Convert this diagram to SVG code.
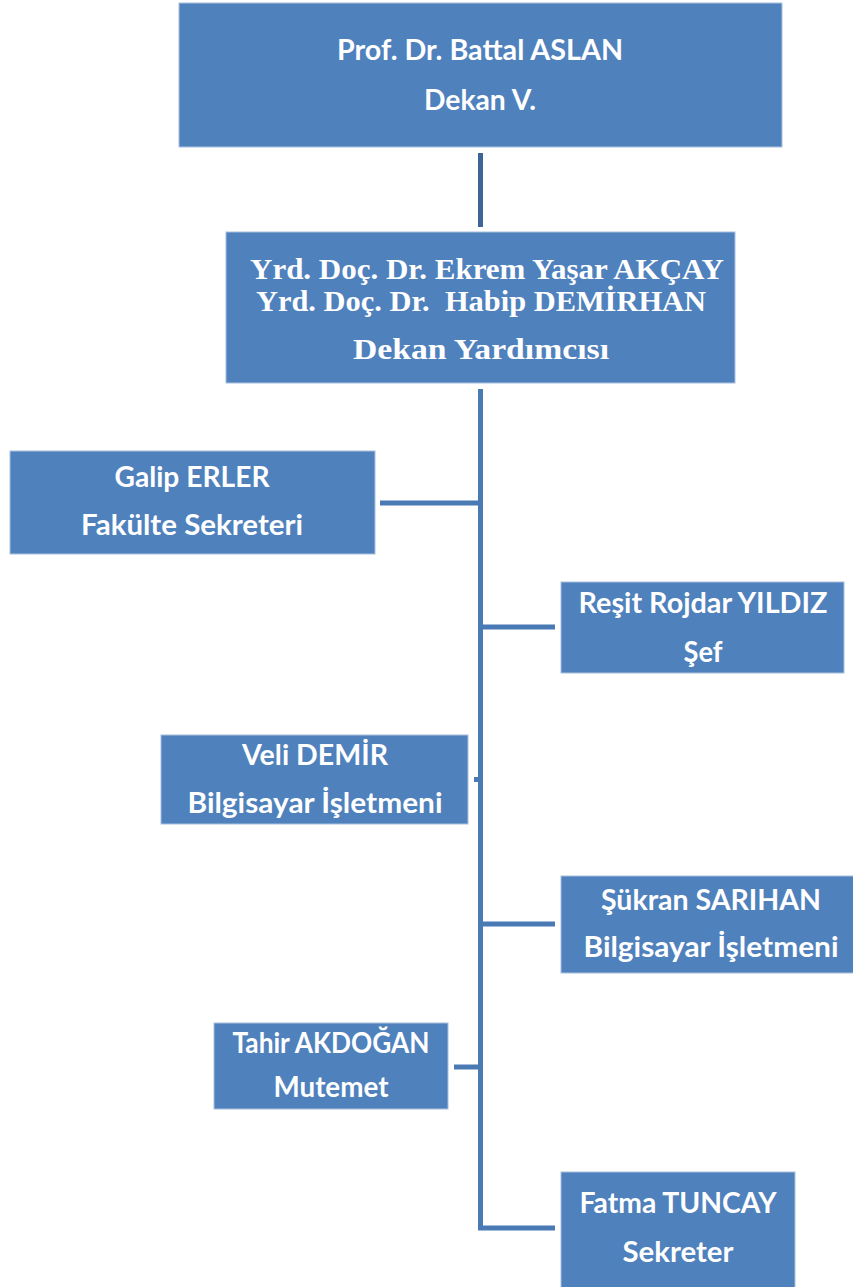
<svg xmlns="http://www.w3.org/2000/svg" width="853" height="1287" viewBox="0 0 853 1287">
<style>
.box{fill:#4f81bd;stroke:#a9c0de;stroke-width:1}
.t{font-family:Lato,"Open Sans","Liberation Sans",sans-serif;font-weight:bold;font-size:28px;fill:#ffffff;text-anchor:middle}
.s{font-family:"Liberation Serif","DejaVu Serif",serif;font-weight:bold;font-size:30px;fill:#ffffff;text-anchor:middle}
.c{stroke:#4a7ab3;stroke-width:5;fill:none}
</style>
<rect width="853" height="1287" fill="#ffffff"/>
<g id="connectors">
<line x1="480.5" y1="153" x2="480.5" y2="227" stroke="#3d6696" stroke-width="5"/>
<polyline class="c" points="480.5,389 480.5,1228 555,1228"/>
<line class="c" x1="380" y1="503" x2="480" y2="503"/>
<line class="c" x1="481" y1="627" x2="555" y2="627"/>
<line class="c" x1="474" y1="779.5" x2="480" y2="779.5"/>
<line class="c" x1="481" y1="924" x2="555" y2="924"/>
<line class="c" x1="454" y1="1067" x2="480" y2="1067"/>
</g>
<g id="dekan">
<rect class="box" x="179" y="3" width="603" height="144"/>
<text class="t" x="480" y="60" textLength="286" lengthAdjust="spacingAndGlyphs">Prof. Dr. Battal ASLAN</text>
<text class="t" x="480" y="110" textLength="112" lengthAdjust="spacingAndGlyphs">Dekan V.</text>
</g>
<g id="yardimci">
<rect class="box" x="226" y="232" width="509" height="151"/>
<text class="s" x="487" y="279" textLength="474" lengthAdjust="spacingAndGlyphs">Yrd. Doç. Dr. Ekrem Yaşar AKÇAY</text>
<text class="s" x="481" y="311" textLength="450" lengthAdjust="spacingAndGlyphs" xml:space="preserve">Yrd. Doç. Dr.  Habip DEMİRHAN</text>
<text class="s" x="481" y="359" textLength="256" lengthAdjust="spacingAndGlyphs">Dekan Yardımcısı</text>
</g>
<g id="galip">
<rect class="box" x="10" y="451" width="365" height="103"/>
<text class="t" x="192" y="487" textLength="155" lengthAdjust="spacingAndGlyphs">Galip ERLER</text>
<text class="t" x="192" y="535" textLength="222" lengthAdjust="spacingAndGlyphs">Fakülte Sekreteri</text>
</g>
<g id="resit">
<rect class="box" x="561" y="582" width="283" height="91"/>
<text class="t" x="703" y="613" textLength="249" lengthAdjust="spacingAndGlyphs">Reşit Rojdar YILDIZ</text>
<text class="t" x="703" y="662" textLength="39" lengthAdjust="spacingAndGlyphs">Şef</text>
</g>
<g id="veli">
<rect class="box" x="161" y="735" width="307" height="89"/>
<text class="t" x="315" y="765" textLength="146" lengthAdjust="spacingAndGlyphs">Veli DEMİR</text>
<text class="t" x="315" y="813" textLength="255" lengthAdjust="spacingAndGlyphs">Bilgisayar İşletmeni</text>
</g>
<g id="sukran">
<rect class="box" x="561" y="876" width="293" height="97"/>
<text class="t" x="711" y="910" textLength="220" lengthAdjust="spacingAndGlyphs">Şükran SARIHAN</text>
<text class="t" x="711" y="957" textLength="255" lengthAdjust="spacingAndGlyphs">Bilgisayar İşletmeni</text>
</g>
<g id="tahir">
<rect class="box" x="214" y="1023" width="234" height="86"/>
<text class="t" x="331" y="1053" textLength="197" lengthAdjust="spacingAndGlyphs">Tahir AKDOĞAN</text>
<text class="t" x="331" y="1097" textLength="115" lengthAdjust="spacingAndGlyphs">Mutemet</text>
</g>
<g id="fatma">
<rect class="box" x="561" y="1172" width="234" height="120"/>
<text class="t" x="678" y="1213" textLength="197" lengthAdjust="spacingAndGlyphs">Fatma TUNCAY</text>
<text class="t" x="678" y="1262" textLength="111" lengthAdjust="spacingAndGlyphs">Sekreter</text>
</g>
</svg>
